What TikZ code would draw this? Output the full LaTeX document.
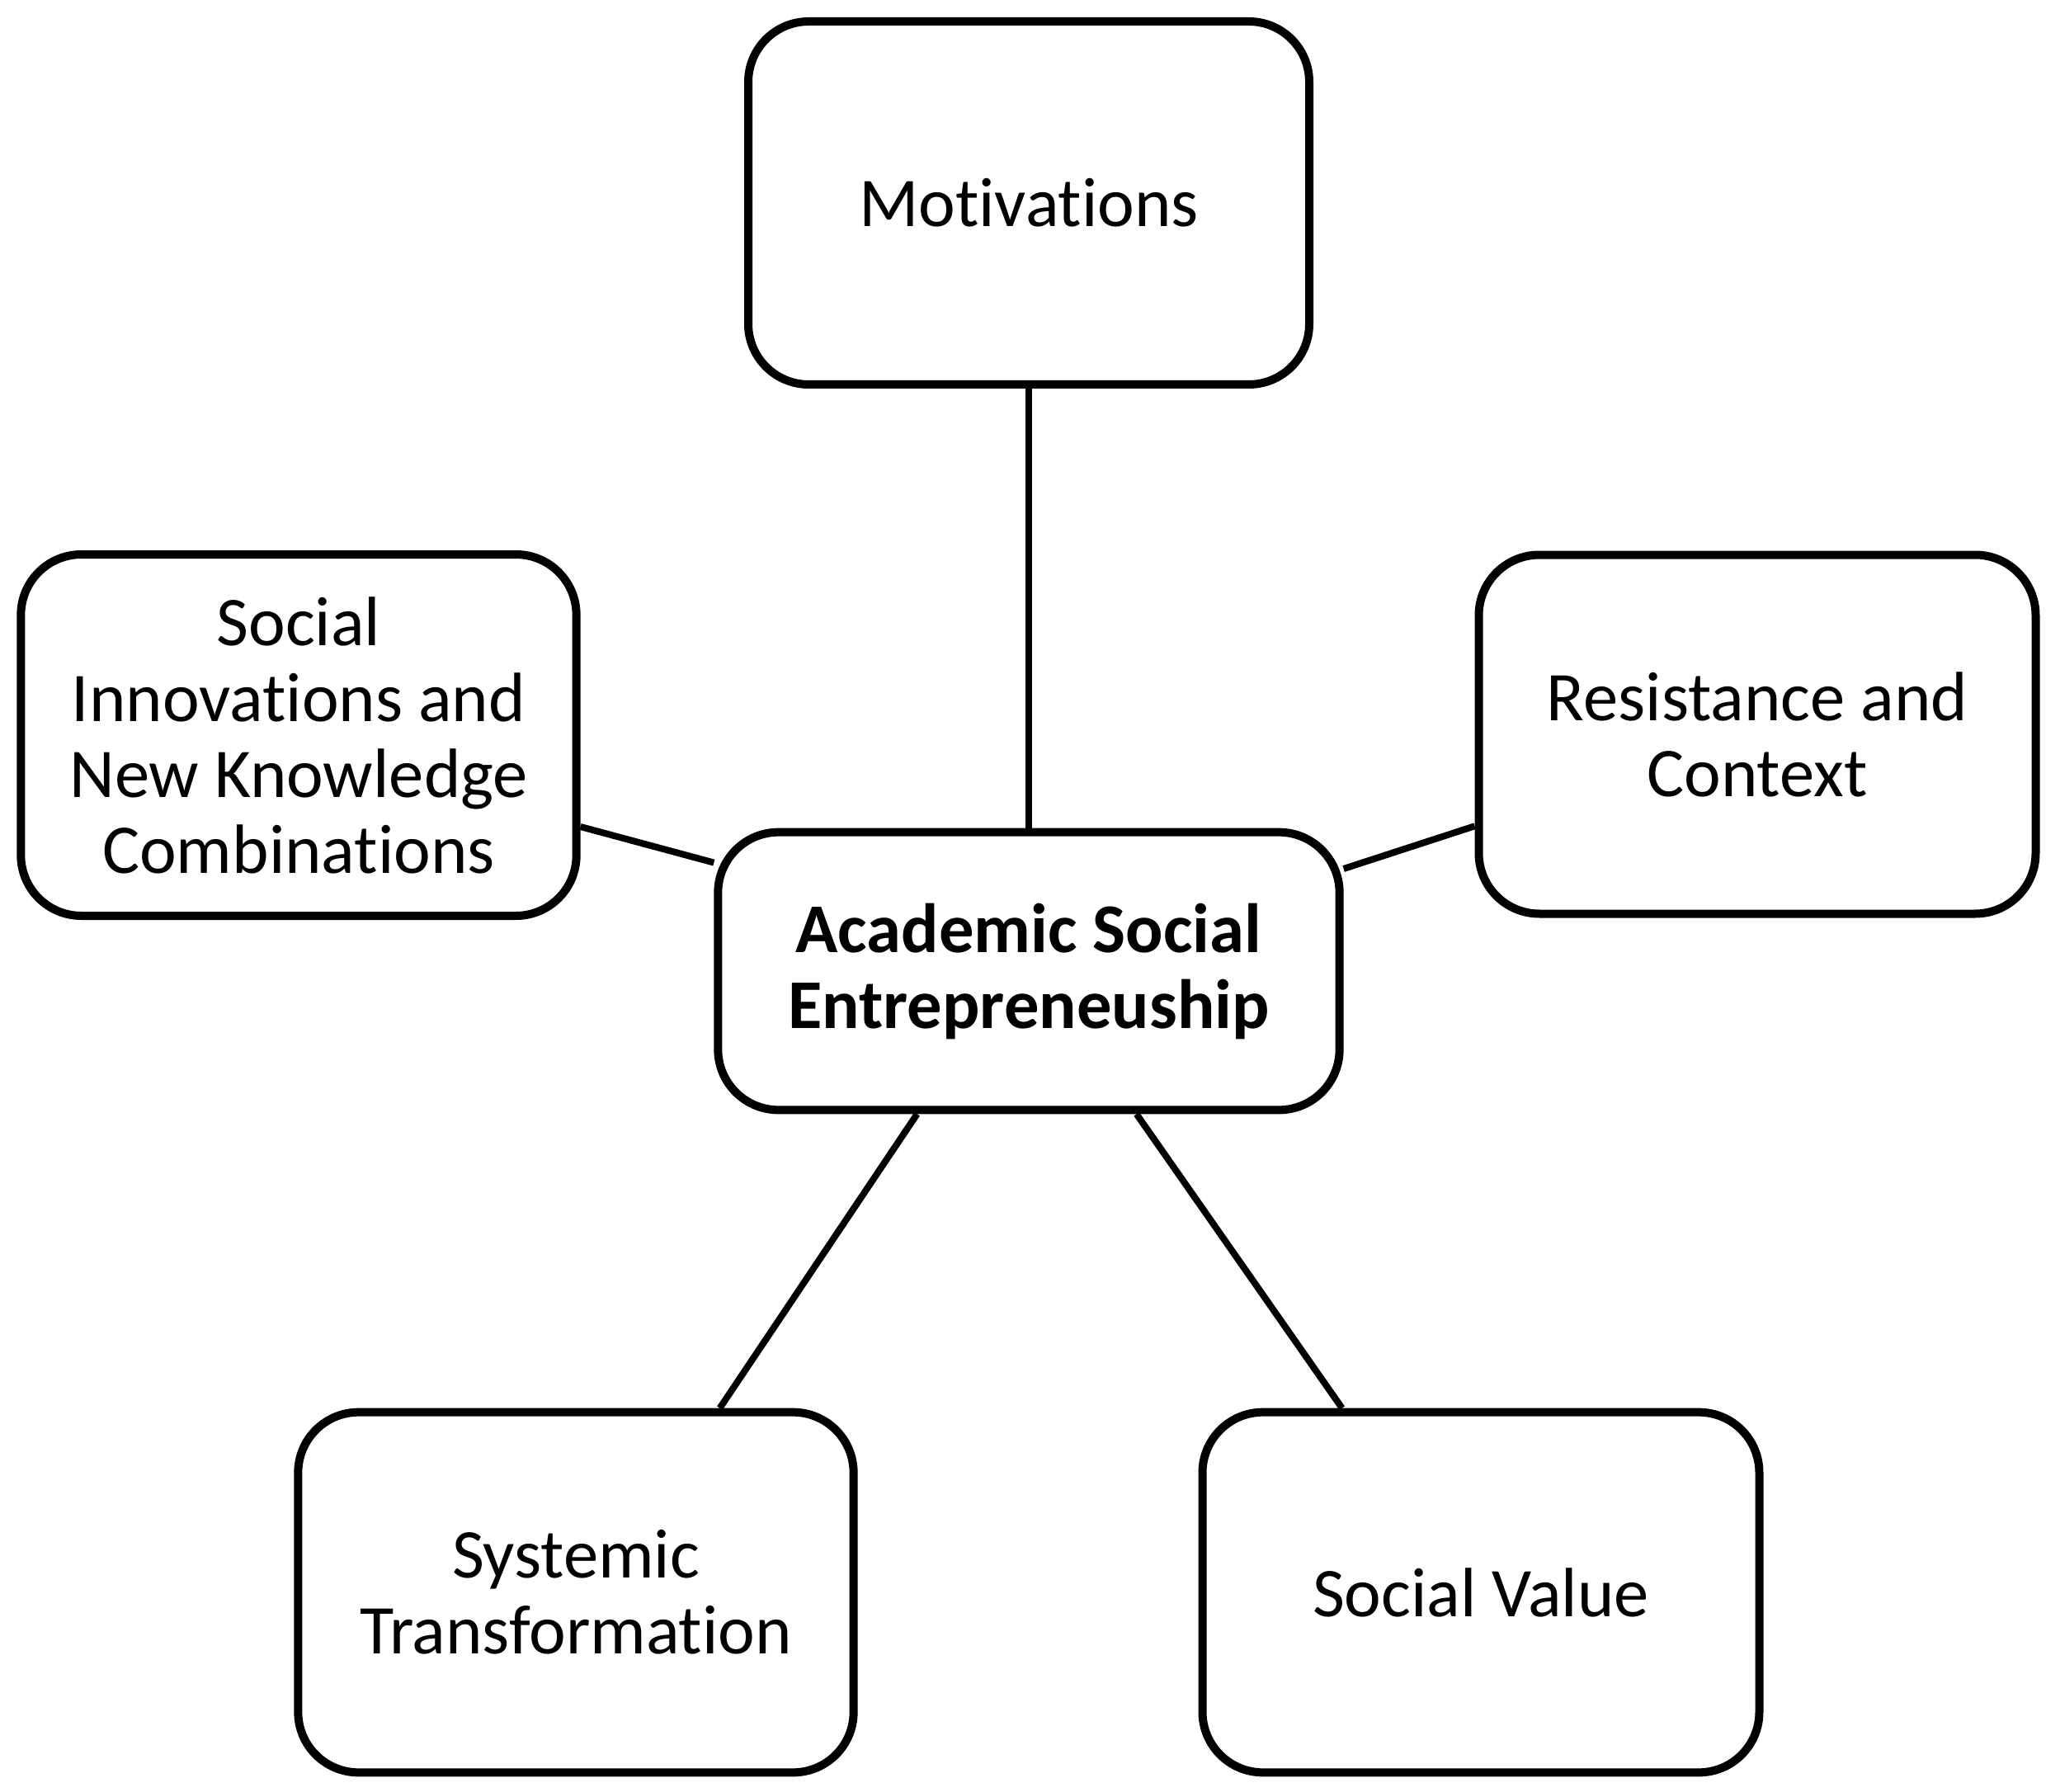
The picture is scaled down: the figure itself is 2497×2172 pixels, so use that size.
\documentclass[tikz,border=0pt]{standalone}
\usepackage{fontspec}
\setmainfont{Carlito}[Ligatures={NoCommon}]
\begin{document}
\begin{tikzpicture}[x=0.3pt,y=-0.3pt,
  box/.style={draw=black,line width=3pt,rounded corners=22pt,align=center,inner sep=0pt,
    font=\fontsize{25.4}{27.6}\selectfont},
  link/.style={draw=black,line width=2.4pt}]
\useasboundingbox (0,0) rectangle (2497,2172);
\node[box,minimum width=204pt,minimum height=132pt] (mot) at (1247,246) {Motivations};
\node[box,minimum width=202pt,minimum height=131.4pt] (si) at (362,891) {Social\\Innovations and\\New Knowledge\\Combinations};
\node[box,minimum width=202.5pt,minimum height=130.5pt] (res) at (2130,890) {Resistance and\\Context};
\node[box,minimum width=226pt,minimum height=101pt] (ctr) at (1247,1177) {\bfseries Academic Social\\\bfseries Entrepreneuship};
\node[box,minimum width=202pt,minimum height=131pt] (sys) at (698,1930) {Systemic\\Transformation};
\node[box,minimum width=202.5pt,minimum height=131pt] (sv) at (1795,1930) {Social Value};
\draw[link] (mot.south) -- (ctr.north);
\draw[link] (si.-18.4) -- (ctr.161.7);
\draw[link] (res.198.4) -- (ctr.18.3);
\draw[link] (sys.52.5) -- (ctr.232.9);
\draw[link] (sv.127.3) -- (ctr.307.5);
\end{tikzpicture}
\end{document}
